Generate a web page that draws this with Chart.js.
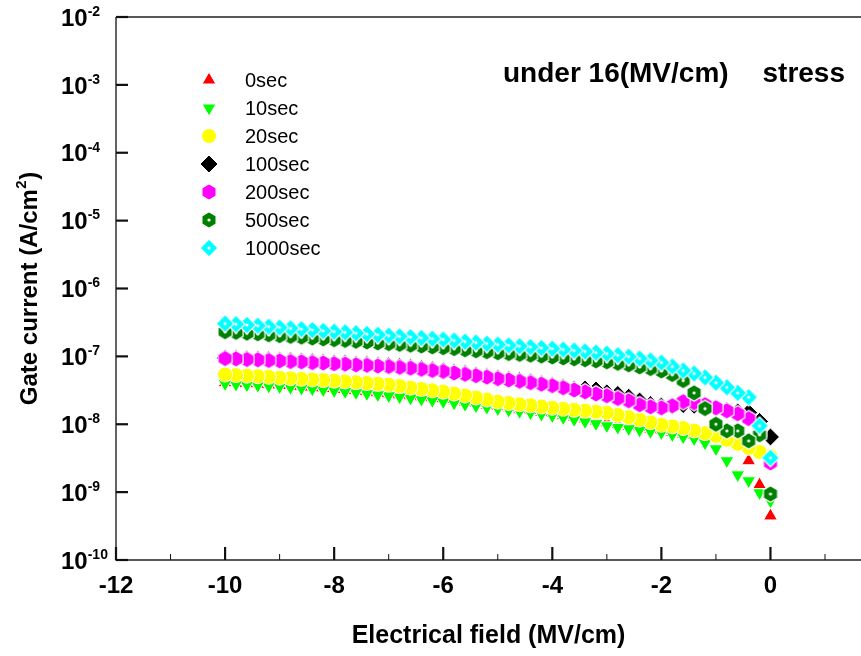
<!DOCTYPE html>
<html>
<head>
<meta charset="utf-8">
<script src="https://cdn.jsdelivr.net/npm/chart.js@4.4.1/dist/chart.umd.min.js"></script>
<style>
  html, body { margin: 0; padding: 0; background: #fff; overflow: hidden; }
  canvas { display: block; }
</style>
</head>
<body>
<canvas id="chart" width="861" height="656"></canvas>
<script>
// Applied field (MV/cm), one reading every 0.2 MV/cm
const field = [-10, -9.8, -9.6, -9.4, -9.2, -9, -8.8, -8.6, -8.4, -8.2, -8, -7.8, -7.6, -7.4, -7.2, -7,
  -6.8, -6.6, -6.4, -6.2, -6, -5.8, -5.6, -5.4, -5.2, -5, -4.8, -4.6, -4.4, -4.2, -4, -3.8, -3.6, -3.4,
  -3.2, -3, -2.8, -2.6, -2.4, -2.2, -2, -1.8, -1.6, -1.4, -1.2, -1, -0.8, -0.6, -0.4, -0.2, 0];

// Gate current density (A/cm^2) after each stress time
const sec0 = [4.1e-8, 4.0e-8, 3.95e-8, 3.87e-8, 3.8e-8, 3.72e-8, 3.62e-8, 3.53e-8, 3.44e-8, 3.35e-8,
  3.26e-8, 3.16e-8, 3.06e-8, 2.96e-8, 2.86e-8, 2.77e-8, 2.68e-8, 2.59e-8, 2.5e-8, 2.41e-8,
  2.32e-8, 2.22e-8, 2.12e-8, 2.02e-8, 1.92e-8, 1.83e-8, 1.75e-8, 1.67e-8, 1.59e-8, 1.51e-8,
  1.44e-8, 1.36e-8, 1.28e-8, 1.2e-8, 1.12e-8, 1.05e-8, 9.9e-9, 9.4e-9, 8.9e-9, 8.5e-9,
  8.1e-9, 7.6e-9, 7.2e-9, 6.8e-9, 6.4e-9, 6.3e-9, 5.9e-9, 5.15e-9, 2.9e-9, 1.28e-9, 4.46e-10];
const sec10 = [3.96e-8, 3.88e-8, 3.80e-8, 3.73e-8, 3.65e-8, 3.58e-8, 3.48e-8, 3.39e-8, 3.30e-8, 3.21e-8,
  3.12e-8, 3.02e-8, 2.92e-8, 2.82e-8, 2.72e-8, 2.63e-8, 2.53e-8, 2.43e-8, 2.33e-8, 2.24e-8,
  2.15e-8, 2.05e-8, 1.95e-8, 1.86e-8, 1.77e-8, 1.69e-8, 1.61e-8, 1.54e-8, 1.47e-8, 1.40e-8,
  1.335e-8, 1.25e-8, 1.17e-8, 1.09e-8, 1.02e-8, 9.5e-9, 9.0e-9, 8.6e-9, 8.2e-9, 7.8e-9,
  7.5e-9, 7.0e-9, 6.5e-9, 6.1e-9, 5.3e-9, 4.35e-9, 2.9e-9, 1.8e-9, 1.47e-9, 9.8e-10, 7.4e-10];
const sec20 = [5.4e-8, 5.3e-8, 5.2e-8, 5.1e-8, 5.0e-8, 4.86e-8, 4.76e-8, 4.66e-8, 4.57e-8, 4.47e-8,
  4.38e-8, 4.27e-8, 4.16e-8, 4.05e-8, 3.94e-8, 3.83e-8, 3.65e-8, 3.46e-8, 3.30e-8, 3.16e-8,
  3.02e-8, 2.83e-8, 2.65e-8, 2.48e-8, 2.31e-8, 2.15e-8, 2.06e-8, 1.97e-8, 1.90e-8, 1.82e-8,
  1.75e-8, 1.69e-8, 1.63e-8, 1.58e-8, 1.53e-8, 1.48e-8, 1.37e-8, 1.27e-8, 1.17e-8, 1.07e-8,
  9.8e-9, 9.3e-9, 8.8e-9, 8.1e-9, 7.4e-9, 6.75e-9, 5.9e-9, 5.15e-9, 4.5e-9, 3.9e-9, 3.4e-9];
const sec100 = [9.5e-8, 9.4e-8, 9.2e-8, 9.1e-8, 8.9e-8, 8.8e-8, 8.6e-8, 8.5e-8, 8.3e-8, 8.2e-8,
  8.0e-8, 7.9e-8, 7.7e-8, 7.6e-8, 7.4e-8, 7.3e-8, 7.1e-8, 6.9e-8, 6.6e-8, 6.35e-8,
  6.15e-8, 5.85e-8, 5.6e-8, 5.3e-8, 5.05e-8, 4.8e-8, 4.6e-8, 4.4e-8, 4.2e-8, 3.95e-8,
  3.75e-8, 3.5e-8, 3.3e-8, 3.3e-8, 3.2e-8, 2.9e-8, 2.75e-8, 2.5e-8, 2.2e-8, 1.95e-8,
  1.85e-8, 1.85e-8, 1.95e-8, 1.9e-8, 1.8e-8, 1.7e-8, 1.6e-8, 1.52e-8, 1.48e-8, 1.1e-8, 6.5e-9];
const sec200 = [9.3e-8, 9.2e-8, 9.0e-8, 8.9e-8, 8.7e-8, 8.6e-8, 8.4e-8, 8.3e-8, 8.1e-8, 8.0e-8,
  7.8e-8, 7.7e-8, 7.5e-8, 7.4e-8, 7.2e-8, 7.1e-8, 6.9e-8, 6.7e-8, 6.45e-8, 6.2e-8,
  6.0e-8, 5.7e-8, 5.45e-8, 5.2e-8, 4.95e-8, 4.7e-8, 4.5e-8, 4.3e-8, 4.1e-8, 3.9e-8,
  3.7e-8, 3.45e-8, 3.2e-8, 3.0e-8, 2.8e-8, 2.63e-8, 2.4e-8, 2.22e-8, 1.94e-8, 1.81e-8,
  1.75e-8, 1.87e-8, 2.15e-8, 2.08e-8, 1.94e-8, 1.75e-8, 1.58e-8, 1.43e-8, 1.21e-8, 7.5e-9, 2.7e-9];
const sec500 = [2.31e-7, 2.26e-7, 2.20e-7, 2.15e-7, 2.08e-7, 2.02e-7, 1.97e-7, 1.92e-7, 1.86e-7, 1.81e-7,
  1.76e-7, 1.72e-7, 1.67e-7, 1.63e-7, 1.58e-7, 1.54e-7, 1.50e-7, 1.46e-7, 1.42e-7, 1.38e-7,
  1.34e-7, 1.30e-7, 1.25e-7, 1.21e-7, 1.17e-7, 1.13e-7, 1.10e-7, 1.07e-7, 1.04e-7, 1.01e-7,
  9.8e-8, 9.5e-8, 9.2e-8, 8.9e-8, 8.6e-8, 8.3e-8, 7.9e-8, 7.5e-8, 7.0e-8, 6.6e-8,
  6.1e-8, 5.4e-8, 4.4e-8, 2.9e-8, 1.7e-8, 1.0e-8, 8.0e-9, 8.0e-9, 5.7e-9, 7.0e-9, 9.4e-10];
const sec1000 = [3.04e-7, 2.98e-7, 2.90e-7, 2.83e-7, 2.74e-7, 2.66e-7, 2.59e-7, 2.52e-7, 2.45e-7, 2.38e-7,
  2.32e-7, 2.26e-7, 2.20e-7, 2.14e-7, 2.08e-7, 2.02e-7, 1.97e-7, 1.92e-7, 1.87e-7, 1.82e-7,
  1.77e-7, 1.71e-7, 1.65e-7, 1.60e-7, 1.54e-7, 1.49e-7, 1.45e-7, 1.41e-7, 1.37e-7, 1.33e-7,
  1.30e-7, 1.26e-7, 1.22e-7, 1.18e-7, 1.14e-7, 1.10e-7, 1.04e-7, 9.9e-8, 9.3e-8, 8.7e-8,
  8.1e-8, 7.1e-8, 6.2e-8, 5.6e-8, 4.9e-8, 4.1e-8, 3.5e-8, 2.9e-8, 2.5e-8, 9.5e-9, 3.2e-9];

const seriesNames = ['0sec', '10sec', '20sec', '100sec', '200sec', '500sec', '1000sec'];
const seriesValues = [sec0, sec10, sec20, sec100, sec200, sec500, sec1000];

// Axis ticks
const xMajorTicks = [-12, -10, -8, -6, -4, -2, 0];
const xMinorTicks = [-11, -9, -7, -5, -3, -1, 1];
const yExponents = [-2, -3, -4, -5, -6, -7, -8, -9, -10];

const FONT = '"Liberation Sans", Arial, Helvetica, sans-serif';

// Marker sprites with a thin white outline
function sprite(shape, fill, dot) {
  const s = 22, m = s / 2;
  const c = document.createElement('canvas');
  c.width = s; c.height = s;
  const g = c.getContext('2d');
  g.beginPath();
  if (shape === 'hex') {
    const R = 8.2;
    for (let i = 0; i < 6; i++) {
      const a = Math.PI / 2 + i * Math.PI / 3;
      const px = m + R * Math.cos(a), py = m + R * Math.sin(a);
      if (i) g.lineTo(px, py); else g.moveTo(px, py);
    }
  } else {
    const R = 9;
    g.moveTo(m, m - R); g.lineTo(m + R, m); g.lineTo(m, m + R); g.lineTo(m - R, m);
  }
  g.closePath();
  g.fillStyle = fill; g.fill();
  g.lineWidth = 1.2; g.strokeStyle = '#ffffff'; g.stroke();
  if (dot) {
    g.beginPath(); g.arc(m, m, 1.6, 0, Math.PI * 2);
    g.fillStyle = '#ffffff'; g.fill();
  }
  return c;
}

const markers = [
  { color: '#ff0000', pointStyle: 'triangle', radius: 8, rotation: 0 },
  { color: '#00ff00', pointStyle: 'triangle', radius: 8, rotation: 180 },
  { color: '#ffff00', pointStyle: 'circle', radius: 7.5, rotation: 0 },
  { color: '#000000', pointStyle: 'rectRot', radius: 9, rotation: 0 },
  { color: '#ff00ff', pointStyle: sprite('hex', '#ff00ff', false), radius: 8, rotation: 0 },
  { color: '#008000', pointStyle: sprite('hex', '#008000', true), radius: 8, rotation: 0 },
  { color: '#00ffff', pointStyle: sprite('diamond', '#00ffff', true), radius: 9, rotation: 0 }
];

// Sweep runs from 0 towards -10 MV/cm, so points are listed in that order
const datasets = seriesNames.map((name, k) => {
  const pts = field.map((x, i) => ({ x: x, y: seriesValues[k][i] })).reverse();
  const mk = markers[k];
  return {
    label: name,
    data: pts,
    showLine: false,
    order: seriesNames.length - 1 - k,
    pointStyle: mk.pointStyle,
    pointRadius: mk.radius,
    pointRotation: mk.rotation,
    pointBackgroundColor: mk.color,
    pointBorderColor: '#ffffff',
    pointBorderWidth: 1,
    clip: false
  };
});

const decor = {
  id: 'decor',
  beforeDatasetsDraw(chart) {
    const { ctx, chartArea: a, scales: { x, y } } = chart;
    ctx.save();
    ctx.strokeStyle = '#222';
    ctx.lineWidth = 1.4;
    ctx.beginPath();
    ctx.moveTo(a.left, a.top); ctx.lineTo(a.right, a.top);
    ctx.moveTo(a.left, a.top); ctx.lineTo(a.left, a.bottom); ctx.lineTo(a.right, a.bottom);
    ctx.stroke();

    ctx.strokeStyle = '#111';
    ctx.lineWidth = 2.2;
    xMajorTicks.forEach(v => {
      const px = x.getPixelForValue(v);
      ctx.beginPath(); ctx.moveTo(px, a.bottom); ctx.lineTo(px, a.bottom - 13); ctx.stroke();
    });
    yExponents.forEach(e => {
      const py = y.getPixelForValue(Math.pow(10, e));
      ctx.beginPath(); ctx.moveTo(a.left, py); ctx.lineTo(a.left + 12, py); ctx.stroke();
    });
    ctx.lineWidth = 1;
    xMinorTicks.forEach(v => {
      const px = x.getPixelForValue(v);
      ctx.beginPath(); ctx.moveTo(px, a.bottom); ctx.lineTo(px, a.bottom - 6); ctx.stroke();
    });
    ctx.restore();
  },
  afterDraw(chart) {
    const { ctx, chartArea: a, scales: { x, y } } = chart;
    ctx.save();
    ctx.fillStyle = '#000';

    // x tick labels
    ctx.font = 'bold 24px ' + FONT;
    ctx.textAlign = 'center';
    ctx.textBaseline = 'middle';
    xMajorTicks.forEach(v => {
      ctx.fillText(String(v), x.getPixelForValue(v), a.bottom + 26);
    });

    // y tick labels: 10 with a raised exponent
    yExponents.forEach(e => {
      const py = y.getPixelForValue(Math.pow(10, e));
      ctx.textAlign = 'left';
      ctx.textBaseline = 'middle';
      ctx.font = 'bold 24px ' + FONT;
      ctx.fillText('10', 61, py + 2);
      const w = ctx.measureText('10').width;
      ctx.font = 'bold 14px ' + FONT;
      ctx.fillText(String(e), 61 + w, py - 5);
    });

    // axis titles
    ctx.font = 'bold 25px ' + FONT;
    ctx.textAlign = 'center';
    ctx.textBaseline = 'middle';
    ctx.fillText('Electrical field (MV/cm)', (a.left + a.right) / 2, 636);

    ctx.save();
    ctx.translate(30, (a.top + a.bottom) / 2);
    ctx.rotate(-Math.PI / 2);
    ctx.textAlign = 'left';
    ctx.textBaseline = 'middle';
    const main = 'Gate current (A/cm', sup = '2', tail = ')';
    ctx.font = 'bold 24px ' + FONT;
    const w1 = ctx.measureText(main).width, w3 = ctx.measureText(tail).width;
    ctx.font = 'bold 15px ' + FONT;
    const w2 = ctx.measureText(sup).width;
    let sx = -(w1 + w2 + w3 + 1) / 2;
    ctx.font = 'bold 24px ' + FONT;
    ctx.fillText(main, sx, 0);
    ctx.font = 'bold 15px ' + FONT;
    ctx.fillText(sup, sx + w1 + 0.5, -8);
    ctx.font = 'bold 24px ' + FONT;
    ctx.fillText(tail, sx + w1 + w2 + 1, 0);
    ctx.restore();

    // stress condition caption
    ctx.font = 'bold 28px ' + FONT;
    ctx.textBaseline = 'alphabetic';
    ctx.textAlign = 'left';
    ctx.fillText('under 16(MV/cm)', 503, 82);
    ctx.textAlign = 'right';
    ctx.fillText('stress', 845, 82);

    // legend
    chart.data.datasets.forEach((ds, k) => {
      const ly = 80 + 28 * k;
      ctx.save();
      ctx.fillStyle = ds.pointBackgroundColor;
      ctx.strokeStyle = '#ffffff';
      ctx.lineWidth = 1;
      Chart.helpers.drawPoint(ctx, {
        pointStyle: ds.pointStyle,
        radius: ds.pointRadius,
        rotation: ds.pointRotation,
        borderWidth: 1
      }, 209, ly);
      ctx.restore();
      ctx.fillStyle = '#000';
      ctx.font = '20px ' + FONT;
      ctx.textAlign = 'left';
      ctx.textBaseline = 'middle';
      ctx.fillText(ds.label, 245, ly + 1);
    });
    ctx.restore();
  }
};

new Chart(document.getElementById('chart'), {
  type: 'scatter',
  data: { datasets: datasets },
  options: {
    responsive: false,
    animation: false,
    events: [],
    layout: { autoPadding: false, padding: { left: 116, top: 17, right: 0, bottom: 96 } },
    plugins: { legend: { display: false }, tooltip: { enabled: false } },
    scales: {
      x: { type: 'linear', min: -12, max: 1.66, display: false },
      y: { type: 'logarithmic', min: 1e-10, max: 1e-2, display: false }
    }
  },
  plugins: [decor]
});
</script>
</body>
</html>
